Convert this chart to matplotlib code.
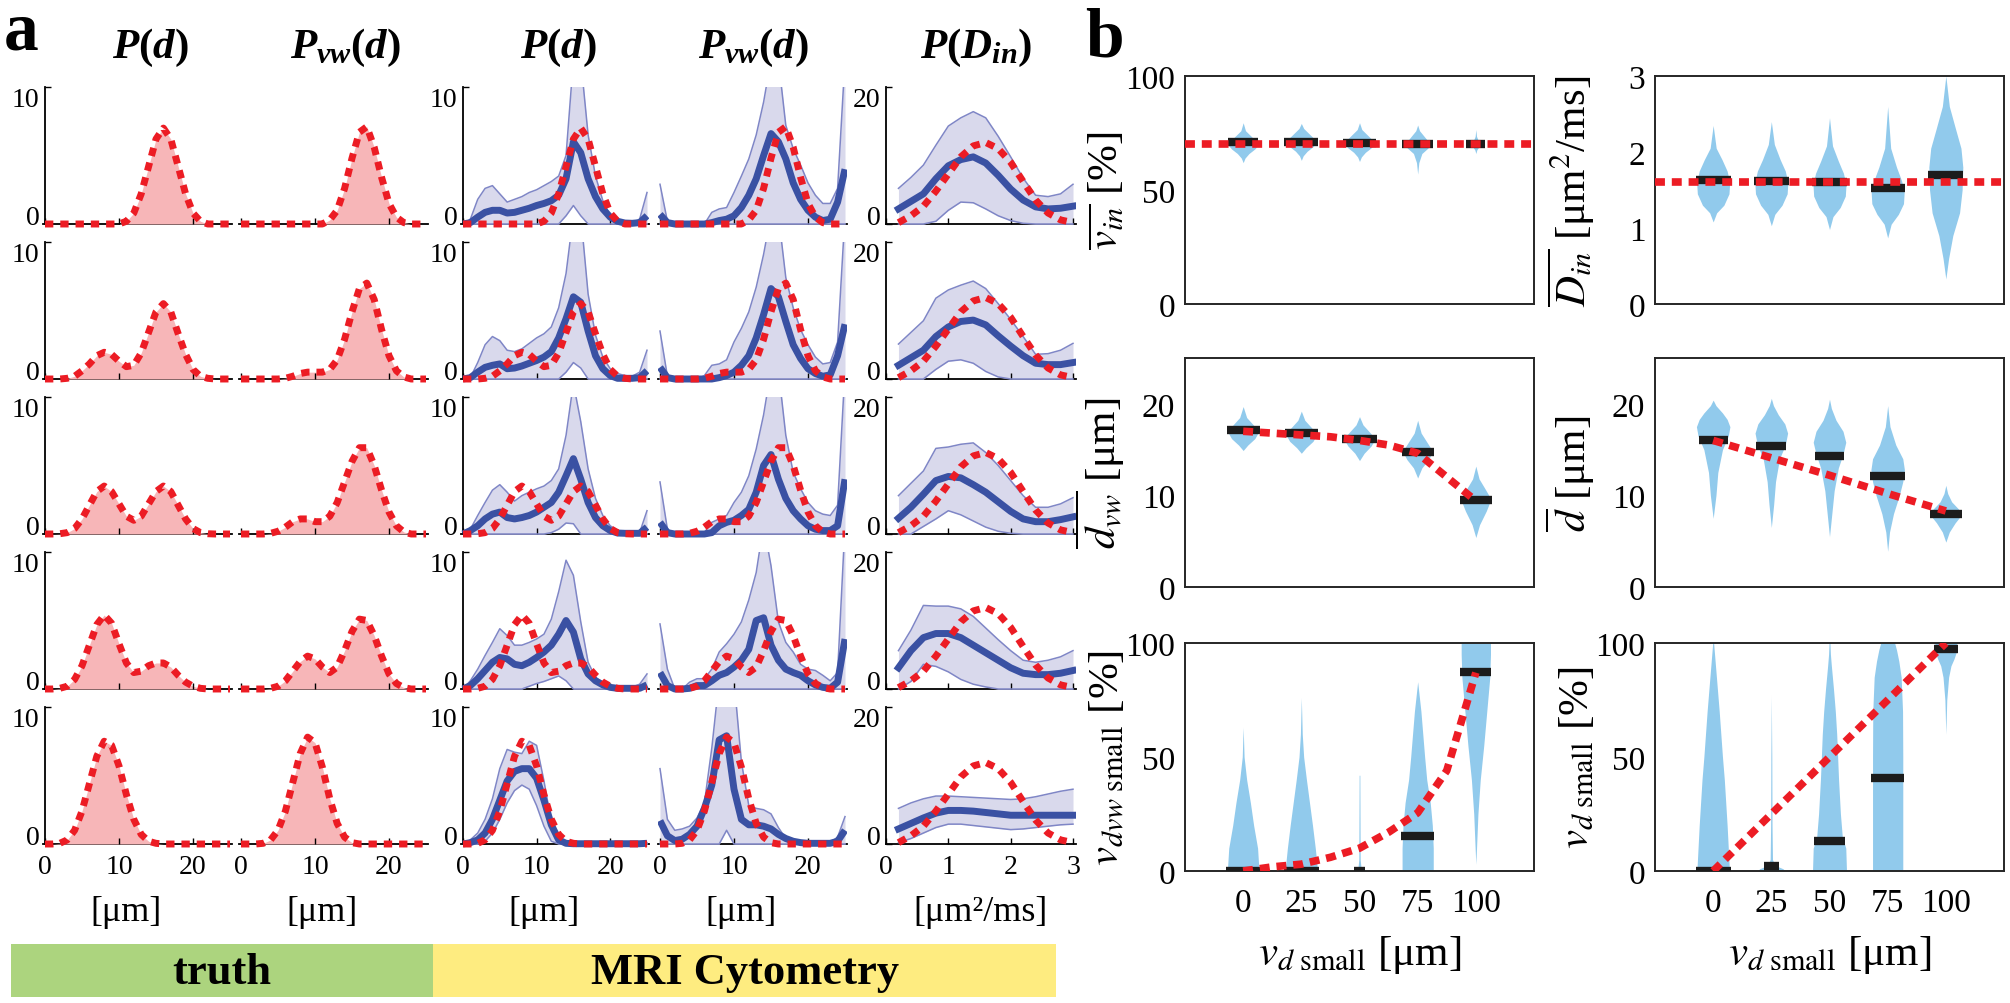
import numpy as np
import matplotlib
matplotlib.use('Agg')
import matplotlib.pyplot as plt
from matplotlib.patches import Rectangle

# ---------------- data, panel a ----------------
d_um = list(range(26))  # 0..25 um

# truth distributions (rows 1..5)
true_pd = [
    [0, 0, 0, 0, 0, 0, 0, 0, 0, 0, 0, 0.2, 0.8, 2.2, 4.2, 6.2, 7.0, 6.2, 4.2, 2.2, 0.8, 0.2, 0, 0, 0, 0],
    [0, 0, 0, 0.05, 0.2, 0.6, 1.1, 1.7, 1.95, 1.8, 1.3, 0.9, 1.0, 1.9, 3.4, 4.9, 5.5, 4.9, 3.3, 1.8, 0.7, 0.2, 0.05, 0, 0, 0],
    [0, 0, 0.02, 0.1, 0.4, 1.1, 2.1, 3.1, 3.5, 3.1, 2.2, 1.3, 1.0, 1.3, 2.2, 3.1, 3.5, 3.1, 2.1, 1.1, 0.4, 0.1, 0.02, 0, 0, 0],
    [0, 0, 0.05, 0.2, 0.7, 1.7, 3.2, 4.7, 5.4, 4.8, 3.3, 1.9, 1.2, 1.3, 1.7, 1.9, 1.9, 1.6, 1.0, 0.5, 0.2, 0.05, 0, 0, 0, 0],
    [0, 0, 0.05, 0.3, 1.0, 2.4, 4.4, 6.4, 7.5, 7.2, 5.7, 3.6, 1.8, 0.7, 0.2, 0.05, 0, 0, 0, 0, 0, 0, 0, 0, 0, 0],
]
true_pvw = [
    [0, 0, 0, 0, 0, 0, 0, 0, 0, 0, 0, 0, 0.3, 1.0, 2.6, 4.8, 6.7, 7.1, 5.6, 3.4, 1.5, 0.5, 0.1, 0, 0, 0],
    [0, 0, 0, 0, 0, 0, 0.05, 0.2, 0.4, 0.5, 0.5, 0.5, 0.7, 1.4, 2.9, 4.9, 6.6, 7.0, 5.8, 3.6, 1.7, 0.6, 0.15, 0, 0, 0],
    [0, 0, 0, 0, 0.05, 0.2, 0.5, 0.9, 1.1, 1.1, 0.9, 0.9, 1.3, 2.3, 3.8, 5.3, 6.3, 6.3, 5.0, 3.2, 1.6, 0.6, 0.15, 0, 0, 0],
    [0, 0, 0, 0, 0.05, 0.2, 0.6, 1.3, 2.0, 2.4, 2.2, 1.6, 1.2, 1.6, 2.8, 4.2, 5.1, 5.0, 3.9, 2.4, 1.1, 0.4, 0.1, 0, 0, 0],
    [0, 0, 0, 0.05, 0.3, 1.0, 2.4, 4.5, 6.6, 7.8, 7.4, 5.6, 3.3, 1.5, 0.5, 0.1, 0, 0, 0, 0, 0, 0, 0, 0, 0, 0],
]

# MRI cytometry estimates of P(d): mean, lower and upper band
est_pd_mean = [
    [0.0, 0.1, 0.5, 0.85, 1.0, 1.0, 0.8, 0.85, 1.0, 1.15, 1.35, 1.5, 1.7, 2.1, 3.3, 6.0, 5.2, 3.3, 2.0, 1.1, 0.5, 0.2, 0.07, 0.05, 0.1, 0.6],
    [0.0, 0.1, 0.5, 0.85, 1.0, 1.1, 0.75, 0.8, 0.95, 1.15, 1.35, 1.6, 2.0, 3.0, 4.4, 6.0, 5.6, 3.5, 1.7, 0.75, 0.25, 0.05, 0.05, 0.05, 0.1, 0.6],
    [0.0, 0.25, 0.6, 1.1, 1.45, 1.6, 1.2, 1.1, 1.2, 1.35, 1.6, 1.95, 2.3, 3.05, 4.25, 5.5, 4.0, 2.3, 1.2, 0.6, 0.25, 0.07, 0.05, 0.05, 0.05, 0.5],
    [0.0, 0.25, 0.75, 1.35, 1.95, 2.3, 2.2, 1.8, 1.7, 1.95, 2.3, 2.7, 3.2, 4.0, 5.0, 4.15, 2.2, 1.1, 0.6, 0.3, 0.12, 0.05, 0.05, 0.05, 0.05, 0.3],
    [0.0, 0.1, 0.3, 0.8, 1.8, 3.2, 4.6, 5.3, 5.5, 5.5, 4.8, 3.2, 1.4, 0.3, 0.05, 0.02, 0.02, 0.02, 0.02, 0.02, 0.02, 0.02, 0.02, 0.02, 0.02, 0.05],
]
est_pd_hi = [
    [0.0, 0.35, 1.8, 2.6, 2.8, 2.2, 1.6, 1.8, 2.0, 2.3, 2.5, 2.8, 3.1, 3.5, 5.0, 12, 12, 6.5, 3.5, 1.7, 0.6, 0.25, 0.1, 0.1, 0.35, 2.3],
    [0.0, 0.1, 1.2, 2.5, 3.1, 2.8, 2.1, 2.0, 2.2, 2.6, 3.0, 3.3, 3.8, 5.2, 7.7, 12, 12, 6.2, 3.2, 1.6, 0.75, 0.4, 0.25, 0.2, 0.5, 2.1],
    [0.0, 0.35, 1.35, 2.3, 3.2, 3.6, 3.05, 2.4, 2.8, 3.05, 3.3, 3.5, 3.9, 4.75, 7.2, 11, 8.2, 4.75, 2.6, 1.35, 0.6, 0.25, 0.1, 0.1, 0.1, 1.7],
    [0.0, 0.6, 1.45, 2.45, 3.4, 4.4, 3.9, 3.2, 3.2, 3.4, 3.65, 4.0, 5.1, 7.1, 9.4, 8.3, 4.9, 1.95, 0.85, 0.5, 0.25, 0.15, 0.15, 0.15, 0.35, 1.1],
    [0.0, 0.3, 0.8, 1.8, 3.3, 5.5, 6.9, 6.7, 6.6, 7.5, 7.2, 4.6, 1.6, 0.3, 0.05, 0.02, 0.02, 0.02, 0.02, 0.02, 0.02, 0.02, 0.02, 0.02, 0.02, 0.1],
]
est_pd_lo = [
    [0, 0, 0, 0, 0, 0, 0, 0, 0, 0, 0, 0, 0, 0, 0.6, 1.35, 0.6, 0, 0, 0, 0, 0, 0, 0, 0, 0],
    [0, 0, 0, 0, 0, 0, 0, 0, 0, 0, 0, 0, 0, 0, 0.5, 1.2, 0.8, 0, 0, 0, 0, 0, 0, 0, 0, 0],
    [0, 0, 0, 0, 0, 0, 0, 0, 0, 0, 0, 0, 0.1, 0.35, 0.8, 0.75, 0, 0, 0, 0, 0, 0, 0, 0, 0, 0],
    [0, 0, 0, 0, 0, 0, 0, 0, 0, 0.2, 0.4, 0.55, 0.75, 0.95, 0.6, 0, 0, 0, 0, 0, 0, 0, 0, 0, 0, 0],
    [0, 0, 0, 0.2, 0.8, 1.8, 3.0, 3.9, 4.3, 4.0, 2.8, 1.3, 0.2, 0, 0, 0, 0, 0, 0, 0, 0, 0, 0, 0, 0, 0],
]

# MRI cytometry estimates of Pvw(d)
est_pvw_mean = [
    [0.7, 0.1, 0, 0, 0, 0, 0, 0.1, 0.25, 0.35, 0.6, 1.2, 2.1, 3.3, 5.0, 6.6, 6.0, 4.75, 3.0, 1.8, 1.0, 0.5, 0.25, 0.35, 1.6, 4.0],
    [0.85, 0.1, 0, 0, 0, 0, 0, 0, 0.1, 0.25, 0.5, 1.0, 1.7, 3.0, 4.7, 6.6, 6.0, 4.2, 2.5, 1.5, 0.75, 0.4, 0.2, 0.3, 1.7, 4.0],
    [0.85, 0.1, 0, 0, 0, 0, 0, 0.1, 0.6, 0.85, 1.0, 1.35, 1.8, 3.05, 5.0, 5.8, 4.0, 2.6, 1.7, 1.1, 0.6, 0.35, 0.25, 0.25, 0.6, 4.0],
    [1.2, 0.25, 0, 0, 0.05, 0.25, 0.25, 0.6, 1.0, 1.2, 1.6, 2.1, 2.9, 5.0, 5.2, 3.2, 2.1, 1.45, 1.2, 1.0, 0.6, 0.3, 0.12, 0.05, 0.5, 3.65],
    [1.7, 0.6, 0.25, 0.35, 0.7, 1.3, 2.6, 4.3, 7.6, 7.9, 4.0, 1.8, 1.4, 1.4, 1.3, 1.1, 0.7, 0.4, 0.2, 0.1, 0.05, 0.05, 0.05, 0.05, 0.2, 1.0],
]
est_pvw_hi = [
    [2.9, 0.2, 0, 0, 0, 0, 0, 0.85, 1.1, 1.2, 2.3, 3.5, 4.75, 6.5, 8.9, 12, 12, 7.2, 5.5, 4.3, 3.0, 2.1, 1.5, 1.5, 2.6, 12],
    [3.5, 0.2, 0, 0, 0, 0, 0.25, 1.0, 1.1, 1.4, 2.7, 3.7, 4.9, 6.7, 9.1, 12, 12, 7.4, 5.2, 3.6, 2.5, 1.6, 1.1, 1.2, 2.7, 12],
    [3.8, 0.35, 0, 0, 0, 0, 0.1, 0.85, 1.1, 1.35, 2.3, 3.05, 4.25, 6.2, 8.7, 12, 12, 7.2, 4.5, 3.3, 2.3, 1.7, 1.45, 1.35, 2.1, 12],
    [4.75, 1.45, 0, 0, 0.5, 0.75, 0.75, 1.45, 2.7, 3.3, 4.0, 4.9, 6.5, 8.5, 12, 9.0, 4.9, 3.4, 2.7, 1.8, 1.45, 1.35, 1.0, 0.6, 1.2, 12],
    [5.5, 1.8, 1.0, 1.1, 1.3, 1.9, 3.0, 7.0, 12, 12, 12, 6.0, 2.8, 2.6, 2.5, 2.2, 1.2, 0.4, 0.1, 0.1, 0.1, 0.1, 0.1, 0.1, 0.5, 2.0],
]
est_pvw_lo = [
    [0] * 26,
    [0] * 26,
    [0] * 26,
    [0] * 26,
    [0, 0, 0, 0, 0, 0, 0, 0, 0, 1.0, 0, 0, 0, 0, 0, 0, 0, 0, 0, 0, 0, 0, 0, 0, 0, 0],
]

# P(Din), x in um^2/ms
din_x = [0.2, 0.4, 0.6, 0.8, 1.0, 1.2, 1.4, 1.6, 1.8, 2.0, 2.2, 2.4, 2.6, 2.8, 3.0]
din_true = [0.2, 1.2, 2.6, 4.8, 7.3, 9.8, 11.4, 11.9, 11.0, 9.0, 6.2, 3.5, 1.6, 0.6, 0.2]
din_mean = [
    [2.2, 3.3, 4.4, 6.6, 8.5, 9.4, 9.8, 8.9, 7.1, 5.1, 3.5, 2.5, 2.2, 2.3, 2.6],
    [2.0, 3.1, 4.2, 6.2, 7.6, 8.4, 8.6, 7.9, 6.3, 4.8, 3.4, 2.3, 2.1, 2.1, 2.4],
    [2.3, 3.9, 5.8, 7.8, 8.4, 8.2, 7.2, 6.1, 4.7, 3.3, 2.2, 1.8, 1.8, 2.1, 2.5],
    [3.1, 5.6, 7.5, 8.1, 8.1, 7.5, 6.4, 5.3, 4.2, 3.1, 2.3, 2.1, 2.1, 2.3, 2.7],
    [2.2, 3.0, 3.8, 4.5, 4.9, 4.9, 4.8, 4.6, 4.4, 4.2, 4.2, 4.2, 4.2, 4.2, 4.2],
]
din_hi = [
    [5.2, 6.8, 8.6, 11.5, 14.3, 15.5, 16.4, 15.5, 12.8, 9.8, 6.7, 4.2, 4.0, 4.4, 5.8],
    [5.1, 6.8, 8.5, 11.8, 13.0, 13.7, 14.3, 13.2, 11.0, 8.7, 6.2, 3.6, 3.7, 4.2, 5.2],
    [5.6, 7.4, 9.2, 12.5, 12.7, 13.1, 13.3, 11.9, 10.0, 7.8, 5.6, 3.9, 3.9, 4.4, 5.3],
    [5.6, 8.6, 12.2, 12.1, 12.1, 11.7, 10.6, 8.9, 7.2, 5.6, 4.2, 3.9, 4.2, 4.7, 5.6],
    [5.2, 6.0, 6.6, 7.0, 7.0, 6.9, 6.8, 6.7, 6.6, 6.5, 6.6, 6.9, 7.3, 7.7, 8.0],
]
din_lo = [
    [0, 0, 0, 0.4, 2.0, 3.2, 3.1, 2.2, 1.2, 0.5, 0.1, 0, 0, 0, 0],
    [0, 0, 0, 1.4, 2.6, 2.8, 2.3, 1.1, 0.3, 0, 0, 0, 0, 0, 0],
    [0, 0, 1.1, 2.2, 3.4, 2.8, 1.9, 1.0, 0.4, 0.1, 0, 0, 0, 0, 0],
    [0, 1.1, 3.6, 3.3, 2.5, 1.4, 0.7, 0.3, 0, 0, 0, 0, 0, 0, 0],
    [0.2, 0.8, 1.6, 2.4, 2.9, 2.9, 2.7, 2.5, 2.3, 2.1, 2.2, 2.4, 2.6, 2.8, 2.9],
]

# ---------------- data, panel b (violins) ----------------
vsmall = [0, 25, 50, 75, 100]
fine_x = [0, 12.5, 25, 37.5, 50, 62.5, 75, 87.5, 100]

vin_true = 70
vin_med = [71, 71, 70.5, 70, 70]
vin_ys = [[62, 64, 66, 68, 70, 72, 74, 76, 79.5],
          [63, 65, 67, 69, 71, 73, 75, 77, 79.2],
          [62.5, 64.5, 66.5, 68.5, 70.5, 72.5, 74.5, 76.5, 79.5],
          [57, 62, 66, 68, 70, 72, 74, 76, 78.5],
          [66, 67.5, 68.5, 69.3, 70, 70.8, 71.8, 73.5, 76.5]]
vin_hw = [[0, 0.8, 2.5, 5.0, 6.7, 5.0, 3.0, 1.0, 0],
          [0, 0.8, 2.5, 5.0, 6.7, 5.0, 3.0, 1.0, 0],
          [0, 0.8, 2.5, 5.0, 6.7, 5.0, 3.0, 1.0, 0],
          [0, 0.5, 1.8, 4.0, 6.0, 4.0, 2.4, 0.8, 0],
          [0, 0.4, 1.0, 2.0, 3.5, 2.0, 1.0, 0.3, 0]]

din_true_val = 1.6
din_med = [1.63, 1.62, 1.60, 1.52, 1.70]
din_vys = [[1.08, 1.2, 1.3, 1.45, 1.6, 1.75, 1.9, 2.05, 2.35],
           [1.03, 1.18, 1.3, 1.45, 1.6, 1.75, 1.9, 2.1, 2.4],
           [0.98, 1.15, 1.27, 1.42, 1.57, 1.72, 1.88, 2.08, 2.45],
           [0.87, 1.05, 1.18, 1.32, 1.47, 1.62, 1.8, 2.05, 2.6],
           [0.33, 0.6, 0.9, 1.2, 1.5, 1.8, 2.05, 2.3, 2.6, 3.0]]
din_vhw = [[0, 1.5, 4.6, 6.8, 7.1, 6.0, 3.8, 1.3, 0],
           [0, 1.5, 4.6, 6.8, 7.1, 6.0, 3.8, 1.3, 0],
           [0, 1.5, 4.6, 6.8, 7.1, 6.0, 3.8, 1.3, 0],
           [0, 1.5, 4.6, 6.8, 7.1, 6.0, 3.8, 1.3, 0],
           [0, 1.2, 3.0, 5.9, 7.0, 7.3, 6.5, 4.2, 1.5, 0]]

dvw_true = [17.0, 16.8, 16.6, 16.4, 16.0, 15.5, 14.6, 12.0, 9.4]
dvw_med = [17.1, 16.8, 16.2, 14.7, 9.45]
dvw_vys = [[14.9, 15.5, 16.2, 17.0, 17.8, 18.5, 19.7],
           [14.6, 15.2, 15.9, 16.7, 17.5, 18.2, 19.2],
           [13.8, 14.6, 15.4, 16.2, 17.0, 17.7, 18.6],
           [11.9, 13.0, 13.9, 14.8, 15.8, 16.8, 18.2],
           [5.4, 6.8, 8.3, 9.6, 10.7, 11.8, 13.2]]
dvw_vhw = [[0, 2.0, 5.0, 6.8, 4.0, 1.5, 0],
           [0, 2.0, 5.0, 6.8, 4.0, 1.5, 0],
           [0, 2.0, 5.0, 6.8, 4.0, 1.5, 0],
           [0, 1.8, 4.6, 6.5, 4.0, 1.5, 0],
           [0, 1.6, 4.5, 6.5, 4.0, 1.4, 0]]

dbar_true = [16.0, 14.1, 12.2, 10.2, 8.3]
dbar_med = [16.0, 15.4, 14.3, 12.1, 8.0]
dbar_vys = [[7.5, 10, 12.5, 15, 16.5, 17.5, 18.3, 19, 19.8, 20.4],
            [6.5, 9, 11.5, 14, 15.5, 16.8, 17.8, 18.8, 19.8, 20.6],
            [5.5, 8, 10.5, 13, 14.5, 15.8, 17, 18.2, 19.5, 20.5],
            [3.9, 6, 8, 10, 11.5, 12.8, 14, 15.5, 17.5, 19.8],
            [4.9, 6.0, 7.0, 7.8, 8.5, 9.3, 10.2, 11.1]]
dbar_vhw = [[0, 1.2, 2.0, 4.0, 6.5, 7.2, 6.0, 4.0, 1.2, 0],
            [0, 1.0, 1.8, 3.5, 6.0, 7.0, 5.8, 3.0, 0.9, 0],
            [0, 1.0, 2.0, 3.8, 5.8, 7.0, 5.8, 2.8, 0.8, 0],
            [0, 0.8, 2.5, 5.0, 6.5, 7.2, 6.5, 3.5, 1.0, 0],
            [0, 1.5, 4.0, 6.5, 5.5, 2.5, 0.8, 0]]

vdvw_true = [0, 1.8, 3.0, 6.0, 10.0, 17.0, 25.5, 44.0, 87.0]
vdvw_med = [0, 0, 0, 15.5, 87.2]
vdvw_vys = [[0, 10, 20, 30, 40, 50, 63],
            [0, 10, 20, 30, 40, 50, 60, 76],
            [0, 5, 42],
            [0, 10, 20, 30, 40, 50, 60, 70, 83],
            [3, 10, 25, 40, 55, 70, 85, 95, 100]]
vdvw_vhw = [[6.8, 6.2, 4.5, 3.1, 1.5, 0.4, 0],
            [7.0, 6.0, 4.8, 3.5, 2.2, 1.0, 0.4, 0],
            [0.8, 0.3, 0.15],
            [6.7, 6.7, 6.3, 5.4, 3.9, 3.0, 2.2, 1.4, 0],
            [0, 0.3, 0.9, 1.9, 3.4, 4.7, 6.0, 6.3, 6.3]]

vd_true = [0, 25, 50, 75, 100]
vd_med = [0, 2, 13.1, 41, 97.2]
vd_vys = [[0, 10, 20, 30, 40, 50, 60, 70, 80, 90, 100],
          [0, 1, 2.5, 5, 20, 50, 77],
          [0, 10, 15, 25, 40, 60, 70, 80, 90, 95, 100],
          [0, 10, 30, 50, 70, 85, 92, 97, 100],
          [60, 75, 85, 90, 93, 96, 100]]
vd_vhw = [[7.0, 6.5, 6.0, 5.4, 4.8, 4.0, 3.3, 2.6, 1.8, 1.0, 0.2],
          [6.0, 5.0, 1.5, 0.5, 0.3, 0.2, 0],
          [7.3, 7.0, 5.5, 4.7, 3.9, 3.1, 2.5, 1.7, 0.8, 0.4, 0.2],
          [6.5, 6.5, 6.5, 6.5, 6.4, 5.8, 4.8, 3.8, 3.0],
          [0, 0.4, 1.2, 2.2, 3.5, 4.5, 4.7]]

# ---------------- style ----------------
RED = '#ec1c24'
BLUE = '#3a51a3'
BAND = '#d9d9ec'
BAND_EDGE = '#7f86c6'
PINK = '#f7b6b8'
VIOLIN = '#91caec'
GREEN = '#acd47e'
YELLOW = '#feec80'

plt.rcParams['font.family'] = ['Liberation Serif', 'DejaVu Serif']
plt.rcParams['mathtext.fontset'] = 'custom'
plt.rcParams['mathtext.rm'] = 'Liberation Serif:bold'
plt.rcParams['mathtext.it'] = 'Liberation Serif:italic:bold'
plt.rcParams['mathtext.bf'] = 'Liberation Serif:bold'

W, H = 2010, 1004
fig = plt.figure(figsize=(W / 100, H / 100), dpi=100)

red_a = dict(color=RED, lw=5, ls=(0, (1.2, 1.0)), dash_capstyle='butt', zorder=5)
red_b = dict(color=RED, lw=5.5, ls=(0, (1.3, 0.9)), dash_capstyle='butt', zorder=5)


def data_axes(px_x, px_y, xr, yr, xlim, ylim):
    # px_x: pixels of xr[0], xr[1]; px_y: pixels (top, bottom) of yr[1], yr[0]
    sx = (px_x[1] - px_x[0]) / (xr[1] - xr[0])
    sy = (px_y[1] - px_y[0]) / (yr[1] - yr[0])
    x0 = px_x[0] - (xr[0] - xlim[0]) * sx
    x1 = px_x[1] + (xlim[1] - xr[1]) * sx
    ytop = px_y[0] - (ylim[1] - yr[1]) * sy
    ybot = px_y[1] + (yr[0] - ylim[0]) * sy
    ax = fig.add_axes([x0 / W, 1 - ybot / H, (x1 - x0) / W, (ybot - ytop) / H])
    ax.set_xlim(xlim)
    ax.set_ylim(ylim)
    ax.patch.set_visible(False)
    return ax


def style_a(ax, ymax, xticks, left, last):
    for s in ['top', 'right']:
        ax.spines[s].set_visible(False)
    ax.spines['bottom'].set_position(('data', 0))
    ax.spines['bottom'].set_zorder(0.5)
    ax.spines['bottom'].set_linewidth(1.3)
    ax.spines['left'].set_position(('data', 0))
    ax.spines['left'].set_bounds(0, ymax)
    ax.spines['left'].set_linewidth(1.3)
    ax.set_xticks(xticks)
    ax.set_yticks([0, ymax])
    ax.tick_params(direction='in', length=4, width=1.0, labelsize=20, pad=4)
    ax.tick_params(axis='x', pad=7, labelbottom=last)
    yt = ax.yaxis.get_major_ticks()
    yt[0].label1.set_va('baseline')
    yt[1].label1.set_va('top')
    if not left:
        ax.spines['left'].set_visible(False)
        ax.tick_params(axis='y', left=False, labelleft=False)


col_px = [(45, 230), (241, 426), (463, 647), (660, 845), (886, 1073)]

for i in range(5):
    top = 88 + 155 * i
    base = top + 137
    last = i == 4

    # truth P(d), Pvw(d)
    for j, truth in enumerate([true_pd[i], true_pvw[i]]):
        ax = data_axes(col_px[j], (top, base), (0, 25), (0, 10), (-0.3, 25.3), (-0.4, 10))
        ax.fill_between(d_um, truth, color=PINK, lw=0, zorder=1)
        ax.plot(d_um, truth, **red_a)
        style_a(ax, 10, [0, 10, 20], j == 0, last)

    # MRI cytometry P(d), Pvw(d)
    ests = [(est_pd_mean[i], est_pd_lo[i], est_pd_hi[i], true_pd[i]),
            (est_pvw_mean[i], est_pvw_lo[i], est_pvw_hi[i], true_pvw[i])]
    for j, (mean, lo, hi, truth) in enumerate(ests):
        ax = data_axes(col_px[j + 2], (top, base), (0, 25), (0, 10), (-0.3, 25.3), (-0.4, 10))
        ax.fill_between(d_um, lo, hi, color=BAND, lw=0, zorder=1)
        ax.plot(d_um, hi, color=BAND_EDGE, lw=1.1, zorder=2)
        ax.plot(d_um, lo, color=BAND_EDGE, lw=1.1, zorder=2)
        ax.plot(d_um, mean, color=BLUE, lw=5, zorder=4, solid_capstyle='butt')
        ax.plot(d_um, truth, **red_a)
        style_a(ax, 10, [0, 10, 20], j == 0, last)

    # P(Din)
    ax = data_axes(col_px[4], (top, base), (0, 3), (0, 20), (0, 3.05), (-0.8, 20))
    ax.fill_between(din_x, din_lo[i], din_hi[i], color=BAND, lw=0, zorder=1)
    ax.plot(din_x, din_hi[i], color=BAND_EDGE, lw=1.1, zorder=2)
    ax.plot(din_x, din_lo[i], color=BAND_EDGE, lw=1.1, zorder=2)
    ax.plot(din_x, din_mean[i], color=BLUE, lw=5, zorder=4)
    ax.plot(din_x, din_true, **red_a)
    style_a(ax, 20, [0, 1, 2, 3], True, last)

    if last:
        for j in range(4):
            fig.text((col_px[j][0] + 0.44 * (col_px[j][1] - col_px[j][0])) / W, 1 - 913 / H,
                     '[μm]', ha='center', va='center', fontsize=26)
        fig.text(980 / W, 1 - 913 / H, '[μm²/ms]', ha='center', va='center', fontsize=26)

# column titles
titles = [r'$P(d)$', r'$P_{vw}(d)$', r'$P(d)$', r'$P_{vw}(d)$', r'$P(D_{in})$']
title_x = [150, 345, 558, 753, 976]
for t, x in zip(titles, title_x):
    fig.text(x / W, 1 - 58 / H, t, ha='center', va='baseline', fontsize=31, math_fontfamily='custom')

fig.text(4 / W, 1 - 50 / H, 'a', fontsize=50, fontweight='bold', va='baseline')
fig.text(1085 / W, 1 - 57 / H, 'b', fontsize=50, fontweight='bold', va='baseline')

# bottom bar
fig.add_artist(Rectangle((11 / W, 1 - 998 / H), (433 - 11) / W, 53 / H,
                         transform=fig.transFigure, color=GREEN, lw=0))
fig.add_artist(Rectangle((433 / W, 1 - 998 / H), (1056 - 433) / W, 53 / H,
                         transform=fig.transFigure, color=YELLOW, lw=0))
fig.text(222 / W, 1 - 973 / H, 'truth', ha='center', va='center', fontsize=32, fontweight='bold')
fig.text(745 / W, 1 - 973 / H, 'MRI Cytometry', ha='center', va='center', fontsize=32, fontweight='bold')


# ---------------- panel b ----------------
def violins(ax, ys_list, hw_list, meds):
    for xc, ys, hw, m in zip(vsmall, ys_list, hw_list, meds):
        ys = np.asarray(ys, float)
        hw = np.asarray(hw, float)
        ax.fill_betweenx(ys, xc - hw, xc + hw, color=VIOLIN, lw=0, zorder=2)
        bw = np.clip(np.interp(m, ys, hw) + 0.6, 2.5, 7.5)
        ax.plot([xc - bw, xc + bw], [m, m], color='#1c1c1c', lw=6, solid_capstyle='butt', zorder=3)


def style_b(ax, yticks, ylabel, bottom):
    ax.set_yticks(yticks)
    ax.tick_params(length=0, labelsize=24, pad=7)
    for s in ax.spines.values():
        s.set_linewidth(1.4)
        s.set_color('#262626')
    ax.set_ylabel(ylabel, fontsize=31, math_fontfamily='stix')
    ax.yaxis.set_label_coords(-0.165, 0.5)
    if bottom:
        ax.set_xticks(vsmall)
        ax.tick_params(axis='x', pad=12)
        ax.set_xlabel(r'$v_{d\ \mathrm{small}}$ [μm]', fontsize=31, math_fontfamily='stix')
        ax.xaxis.set_label_coords(0.5, -0.27)
    else:
        ax.set_xticks([])


bx = [(1185, 1534), (1655, 2004)]
by = [(77, 305), (359, 588), (644, 872)]

# row 1
ax = data_axes(bx[0], by[0], (-25, 125), (0, 100), (-25, 125), (0, 100))
violins(ax, vin_ys, vin_hw, vin_med)
ax.axhline(vin_true, **red_b)
style_b(ax, [0, 50, 100], r'$\overline{v_{in}}$ [%]', False)

ax = data_axes(bx[1], by[0], (-25, 125), (0, 3), (-25, 125), (0, 3))
violins(ax, din_vys, din_vhw, din_med)
ax.axhline(din_true_val, **red_b)
style_b(ax, [0, 1, 2, 3], r'$\overline{D_{in}}$ [μm$^{2}$/ms]', False)

# row 2
ax = data_axes(bx[0], by[1], (-25, 125), (0, 25), (-25, 125), (0, 25))
violins(ax, dvw_vys, dvw_vhw, dvw_med)
ax.plot(fine_x, dvw_true, **red_b)
style_b(ax, [0, 10, 20], r'$\overline{d_{vw}}$ [μm]', False)

ax = data_axes(bx[1], by[1], (-25, 125), (0, 25), (-25, 125), (0, 25))
violins(ax, dbar_vys, dbar_vhw, dbar_med)
ax.plot(vsmall, dbar_true, **red_b)
style_b(ax, [0, 10, 20], r'$\overline{d}$ [μm]', False)

# row 3
ax = data_axes(bx[0], by[2], (-25, 125), (0, 100), (-25, 125), (0, 100))
violins(ax, vdvw_vys, vdvw_vhw, vdvw_med)
ax.plot(fine_x, vdvw_true, **red_b)
style_b(ax, [0, 50, 100], r'$v_{dvw\ \mathrm{small}}$ [%]', True)

ax = data_axes(bx[1], by[2], (-25, 125), (0, 100), (-25, 125), (0, 100))
violins(ax, vd_vys, vd_vhw, vd_med)
ax.plot(vsmall, vd_true, **red_b)
style_b(ax, [0, 50, 100], r'$v_{d\ \mathrm{small}}$ [%]', True)

fig.savefig('out.png', dpi=100)
